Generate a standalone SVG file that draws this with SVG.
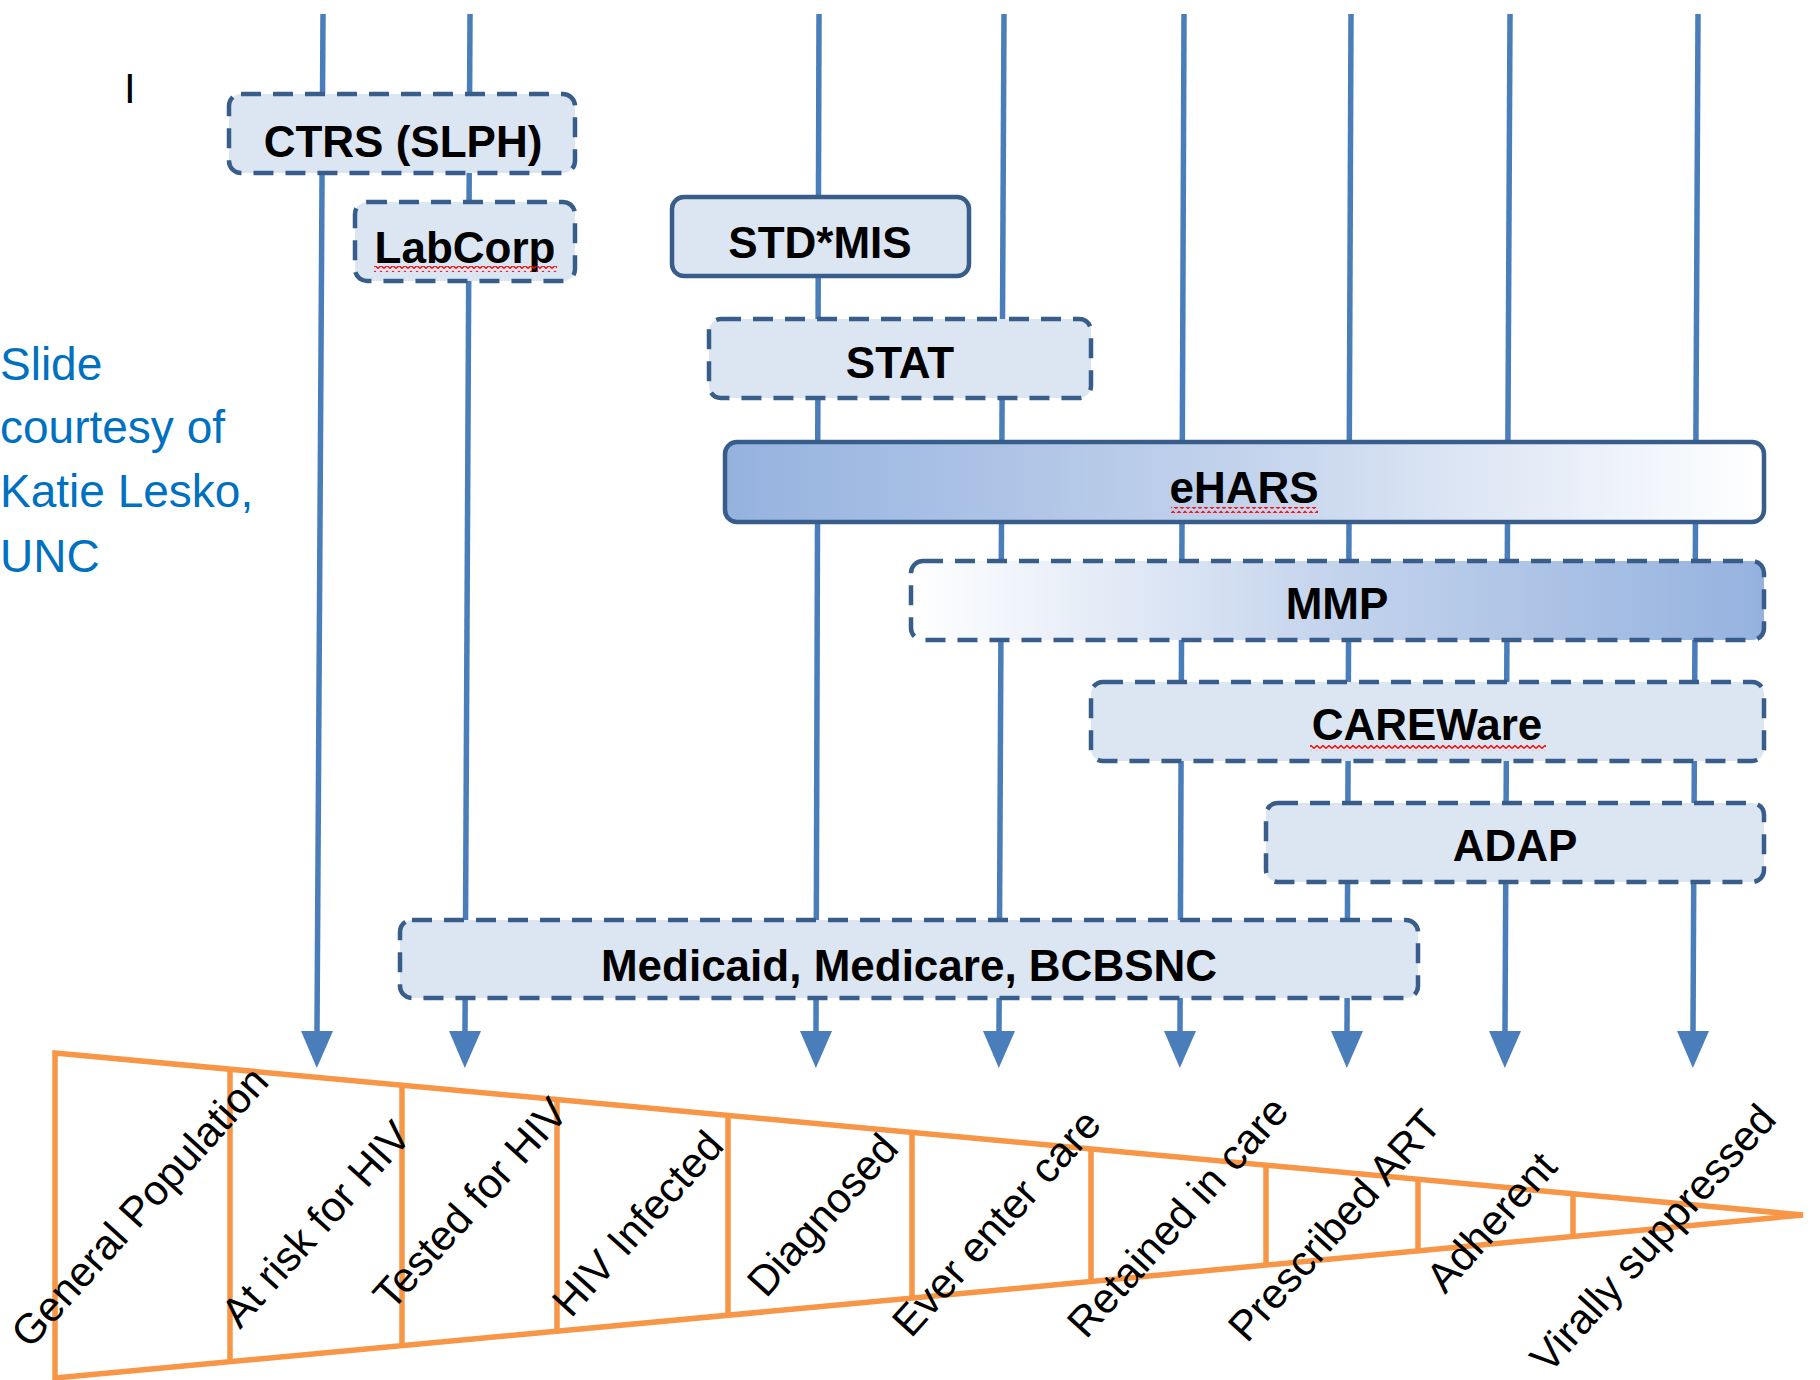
<svg xmlns="http://www.w3.org/2000/svg" width="1820" height="1380" viewBox="0 0 1820 1380">
<style>
.box{fill:#dce6f2;stroke:#385d8a;stroke-width:4.5}
.dash{stroke-dasharray:20 12}
.lbl{font-family:"Liberation Sans",Arial,sans-serif;font-weight:bold;font-size:44px;fill:#000;text-anchor:middle}
.conn{stroke:#4a7ebb;stroke-width:5.5;fill:none}
.stage{font-family:"Liberation Sans",Arial,sans-serif;font-size:42px;fill:#000}
.funnel{fill:none;stroke:#f79646;stroke-width:5.5;stroke-linejoin:miter}
.note{font-family:"Liberation Sans",Arial,sans-serif;font-size:46px;fill:#0070c0}
.squig{fill:url(#sq)}
</style>
<defs>
<marker id="arr" markerUnits="userSpaceOnUse" viewBox="0 0 37 32" refX="0" refY="16" markerWidth="37" markerHeight="32" orient="auto">
<path d="M0,0 L37,16 L0,32 Z" fill="#4a7ebb"/>
</marker>
<linearGradient id="gEhars" x1="0" y1="0" x2="1" y2="0">
<stop offset="0" stop-color="#95b2df"/>
<stop offset="0.5" stop-color="#c3d3ec"/>
<stop offset="1" stop-color="#ffffff"/>
</linearGradient>
<linearGradient id="gMmp" x1="0" y1="0" x2="1" y2="0">
<stop offset="0" stop-color="#ffffff"/>
<stop offset="0.5" stop-color="#c3d3ec"/>
<stop offset="1" stop-color="#95b2df"/>
</linearGradient>
<pattern id="sq" width="6" height="6" patternUnits="userSpaceOnUse">
<polyline points="0,4.5 3,1.5 6,4.5" fill="none" stroke="#ff0000" stroke-width="1.3"/>
</pattern>
</defs>

<g id="connectors">
<line class="conn" x1="323" y1="14" x2="317" y2="1031" marker-end="url(#arr)"/>
<line class="conn" x1="470" y1="14" x2="465" y2="1031" marker-end="url(#arr)"/>
<line class="conn" x1="819" y1="14" x2="816" y2="1031" marker-end="url(#arr)"/>
<line class="conn" x1="1004" y1="14" x2="999" y2="1031" marker-end="url(#arr)"/>
<line class="conn" x1="1184" y1="14" x2="1180" y2="1031" marker-end="url(#arr)"/>
<line class="conn" x1="1351" y1="14" x2="1347" y2="1031" marker-end="url(#arr)"/>
<line class="conn" x1="1510" y1="14" x2="1505" y2="1031" marker-end="url(#arr)"/>
<line class="conn" x1="1698" y1="14" x2="1693" y2="1031" marker-end="url(#arr)"/>
</g>

<g id="ctrs">
<rect class="box dash" x="229" y="94" width="346" height="79" rx="12"/>
<text class="lbl" x="403" y="157">CTRS (SLPH)</text>
</g>
<g id="labcorp">
<rect class="box dash" x="355" y="202" width="220" height="79" rx="12"/>
<text class="lbl" x="465" y="263">LabCorp</text>
<rect class="squig" x="374" y="266" width="183" height="6"/>
</g>
<g id="stdmis">
<rect class="box" x="672" y="197" width="297" height="79" rx="12"/>
<text class="lbl" x="820" y="258">STD*MIS</text>
</g>
<g id="stat">
<rect class="box dash" x="709" y="319" width="382" height="79" rx="12"/>
<text class="lbl" x="900" y="378">STAT</text>
</g>
<g id="ehars">
<rect class="box" style="fill:url(#gEhars)" x="725" y="442" width="1039" height="80" rx="12"/>
<text class="lbl" x="1244" y="503">eHARS</text>
<rect class="squig" x="1171" y="507" width="147" height="6"/>
</g>
<g id="mmp">
<rect class="box dash" style="fill:url(#gMmp)" x="911" y="561" width="853" height="79" rx="12"/>
<text class="lbl" x="1337" y="619">MMP</text>
</g>
<g id="careware">
<rect class="box dash" x="1091" y="682" width="673" height="79" rx="12"/>
<text class="lbl" x="1427" y="740">CAREWare</text>
<rect class="squig" x="1310" y="745" width="236" height="6"/>
</g>
<g id="adap">
<rect class="box dash" x="1266" y="803" width="498" height="79" rx="12"/>
<text class="lbl" x="1515" y="861">ADAP</text>
</g>
<g id="medicaid">
<rect class="box dash" x="400" y="920" width="1018" height="78" rx="12"/>
<text class="lbl" x="909" y="981">Medicaid, Medicare, BCBSNC</text>
</g>

<g id="funnel">
<polygon class="funnel" points="55,1053 1803,1215 55,1378"/>
<line class="funnel" x1="230" y1="1069.2" x2="230" y2="1361.7"/>
<line class="funnel" x1="402" y1="1085.2" x2="402" y2="1345.6"/>
<line class="funnel" x1="557" y1="1099.5" x2="557" y2="1331.2"/>
<line class="funnel" x1="728" y1="1115.4" x2="728" y2="1315.2"/>
<line class="funnel" x1="912" y1="1132.4" x2="912" y2="1298.1"/>
<line class="funnel" x1="1091" y1="1149.0" x2="1091" y2="1281.4"/>
<line class="funnel" x1="1266" y1="1165.2" x2="1266" y2="1265.1"/>
<line class="funnel" x1="1418" y1="1179.3" x2="1418" y2="1250.9"/>
<line class="funnel" x1="1573" y1="1193.7" x2="1573" y2="1236.4"/>
</g>

<g id="stages">
<text class="stage" transform="translate(30,1350) rotate(-48)">General Population</text>
<text class="stage" transform="translate(240,1330) rotate(-48)">At risk for HIV</text>
<text class="stage" transform="translate(392,1312) rotate(-48)">Tested for HIV</text>
<text class="stage" transform="translate(571,1319) rotate(-48)">HIV Infected</text>
<text class="stage" transform="translate(766,1299) rotate(-48)">Diagnosed</text>
<text class="stage" transform="translate(911,1339) rotate(-48)">Ever enter care</text>
<text class="stage" transform="translate(1086,1340) rotate(-48)">Retained in care</text>
<text class="stage" transform="translate(1247,1344) rotate(-48)">Prescribed ART</text>
<text class="stage" transform="translate(1445,1295) rotate(-48)">Adherent</text>
<text class="stage" transform="translate(1549,1375) rotate(-48)">Virally suppressed</text>
</g>

<g id="credit">
<text class="note" x="0" y="380">Slide</text>
<text class="note" x="0" y="443">courtesy of</text>
<text class="note" x="0" y="507">Katie Lesko,</text>
<text class="note" x="0" y="572">UNC</text>
</g>
<text x="124" y="103" font-family="Liberation Sans,Arial,sans-serif" font-size="42" fill="#000">I</text>
</svg>
